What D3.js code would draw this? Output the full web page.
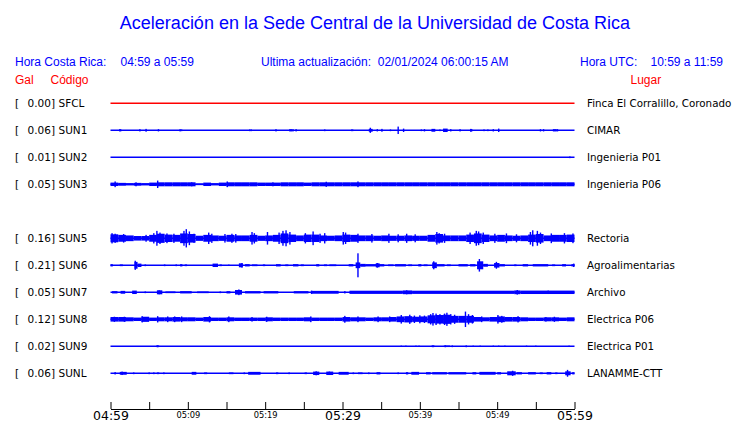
<!DOCTYPE html>
<html><head><meta charset="utf-8">
<script src="https://cdn.jsdelivr.net/npm/d3@7"></script>
<style>body{margin:0;background:#fff}svg{display:block}</style>
</head><body>
<svg id="c" width="740" height="423"></svg>
<script>
// ---------- DATA ----------
const titleText = "Aceleración en la Sede Central de la Universidad de Costa Rica";
const slots  = ["SFCL","SUN1","SUN2","SUN3","SUN4","SUN5","SUN6","SUN7","SUN8","SUN9","SUNL"];
const codes  = ["SFCL","SUN1","SUN2","SUN3","SUN5","SUN6","SUN7","SUN8","SUN9","SUNL"];
const maxGal = [0.00, 0.06, 0.01, 0.05, 0.16, 0.21, 0.05, 0.12, 0.02, 0.06];
const places = ["Finca El Corralillo, Coronado","CIMAR","Ingenieria P01","Ingenieria P06",
                "Rectoria","Agroalimentarias","Archivo","Electrica P06","Electrica P01","LANAMME-CTT"];
const tickLabels = ["04:59","","05:09","","05:19","","05:29","","05:39","","05:49","","05:59"];
const majorLabels = ["04:59","05:29","05:59"];

// per-minute envelope (Gal) for the continuously noisy stations
const envSUN3 = [0.03,0.025,0.02,0.025,0.02,0.03,0.035,0.035,0.035,0.035,
                 0.035,0.015,0.03,0.02,0.03,0.035,0.035,0.035,0.035,0.03,
                 0.03,0.03,0.035,0.035,0.035,0.03,0.035,0.035,0.035,0.035,
                 0.035,0.035,0.035,0.035,0.035,0.035,0.035,0.035,0.035,0.035,
                 0.035,0.035,0.035,0.035,0.035,0.035,0.035,0.035,0.035,0.035,
                 0.035,0.035,0.035,0.035,0.035,0.035,0.035,0.035,0.035,0.035];
const envSUN5 = [0.07,0.06,0.05,0.04,0.04,0.06,0.08,0.065,0.06,0.085,
                 0.075,0.045,0.06,0.05,0.045,0.06,0.05,0.05,0.06,0.045,
                 0.05,0.06,0.085,0.065,0.05,0.065,0.065,0.05,0.045,0.05,
                 0.065,0.06,0.05,0.05,0.045,0.05,0.045,0.045,0.05,0.045,
                 0.045,0.06,0.075,0.05,0.05,0.05,0.065,0.085,0.065,0.05,
                 0.06,0.05,0.045,0.05,0.065,0.075,0.05,0.06,0.06,0.065];
const envSUN8 = [0.04,0.04,0.035,0.03,0.045,0.03,0.035,0.035,0.04,0.035,
                 0.035,0.03,0.04,0.03,0.03,0.035,0.03,0.03,0.03,0.03,
                 0.035,0.03,0.03,0.03,0.03,0.035,0.03,0.03,0.03,0.03,
                 0.04,0.035,0.035,0.03,0.035,0.035,0.04,0.05,0.055,0.045,
                 0.05,0.07,0.075,0.08,0.06,0.06,0.06,0.04,0.035,0.04,
                 0.05,0.04,0.04,0.035,0.03,0.03,0.035,0.035,0.03,0.035];

// bursts [startMin, endMin, Gal]
const burstsSUN1 = [[1.1,1.4,0.02],[23.1,23.5,0.02],[27.6,27.8,0.015],[31.1,31.4,0.015],[33.4,33.9,0.025],
                    [41.5,42.0,0.025],[43.0,43.6,0.03],[46.5,46.8,0.02],[57.2,57.7,0.02]];
const burstsSUN6 = [[0,0.3,0.02],[1.2,1.6,0.015],[3.1,3.5,0.06],[3.5,4.0,0.03],[4.4,4.6,0.015],[6.9,7.1,0.015],
                    [8.4,8.6,0.015],[9.0,9.3,0.02],[9.6,9.9,0.015],[13.2,13.9,0.03],[14.1,14.4,0.015],
                    [15.2,15.4,0.012],[16.6,17.1,0.035],[17.4,18.0,0.02],[18.3,19.0,0.015],[19.7,20.0,0.015],
                    [21.4,22.0,0.02],[22.6,23.0,0.015],[23.6,24.3,0.02],[24.6,25.0,0.015],[26.6,27.0,0.02],
                    [27.6,28.0,0.015],[28.3,29.2,0.015],[30.8,31.4,0.02],[31.7,32.3,0.05],[32.3,33.0,0.025],
                    [33.0,35.4,0.02],[34.3,34.8,0.035],[35.9,36.6,0.015],[36.8,38.2,0.02],[38.5,39.0,0.015],
                    [39.8,40.2,0.02],[40.5,41.0,0.015],[41.6,42.2,0.05],[42.2,43.2,0.02],[43.5,44.0,0.015],
                    [45.0,46.2,0.02],[46.5,47.2,0.02],[47.4,48.2,0.07],[48.2,48.8,0.025],[49.6,50.3,0.04],
                    [50.3,51.0,0.02],[52.2,52.5,0.015],[53.3,54.0,0.02],[54.6,56.6,0.02],[57.1,57.5,0.015],
                    [58.4,58.9,0.02],[59.6,60,0.02]];
const burstsSUN7 = [[0.2,0.9,0.02],[1.3,1.9,0.025],[2.8,3.4,0.03],[4.4,4.6,0.015],[6.0,6.7,0.035],[7.1,8.4,0.015],
                    [9.0,10.5,0.02],[11.2,12.7,0.015],[14.1,14.3,0.015],[15.0,15.5,0.02],[16.1,17.0,0.04],
                    [17.4,19.4,0.02],[19.8,21.7,0.02],[23.7,25.6,0.02],[26.0,29.5,0.025],[30.2,30.4,0.02],
                    [30.9,37.8,0.028],[37.8,39.0,0.033],[39.0,52.2,0.028],[52.2,53.0,0.033],[53.0,60,0.03]];
const burstsSUN9 = [[5.9,6.3,0.014],[41.5,41.9,0.013],[43.1,43.9,0.013]];
const burstsSUNL = [[0.5,0.7,0.02],[1.2,2.1,0.025],[2.9,3.1,0.015],[4.9,5.1,0.015],[5.5,5.7,0.015],[6.0,6.3,0.015],
                    [6.8,7.0,0.015],[10.5,11.1,0.025],[12.1,12.5,0.015],[15.3,15.9,0.015],[17.2,17.4,0.015],
                    [17.8,19.4,0.025],[21.4,21.7,0.015],[23.0,23.2,0.015],[25.1,25.4,0.015],[26.2,27.0,0.03],
                    [27.9,28.8,0.03],[29.5,30.8,0.025],[31.3,31.5,0.015],[32.0,32.6,0.015],[33.3,33.5,0.015],
                    [34.4,34.9,0.02],[37.1,37.3,0.015],[38.2,38.5,0.02],[38.9,39.9,0.025],[40.8,41.4,0.02],
                    [41.6,43.5,0.02],[43.7,46.0,0.02],[46.8,47.3,0.02],[47.7,49.8,0.025],[50.0,50.5,0.02],
                    [51.3,52.4,0.035],[52.5,53.2,0.02],[54.0,55.0,0.02],[55.5,55.9,0.015],[56.4,57.0,0.02],
                    [57.5,57.8,0.015],[58.8,59.5,0.035],[59.7,60,0.02]];

// spikes [minute, Gal]
const spikesSUN1 = [[3.8,0.02],[4.6,0.025],[6.2,0.02],[9.0,0.02],[9.2,0.015],[18.0,0.015],[18.2,0.015],[21.4,0.02],
                    [23.6,0.02],[24.0,0.02],[33.6,0.045],[34.5,0.02],[35.1,0.025],[36.2,0.015],[37.2,0.065],
                    [37.9,0.03],[40.2,0.015],[40.6,0.02],[42.6,0.015],[44.0,0.02],[45.2,0.02],[46.6,0.025],
                    [48.3,0.015],[48.8,0.015],[49.5,0.02],[50.2,0.03],[55.6,0.02],[56.0,0.02],[57.8,0.02]];
const spikesSUN2 = [[59.4,0.015]];
const spikesSUN3 = [[0.6,0.05],[3.3,0.035],[6.1,0.065],[10.5,0.035],[15.1,0.05],[21.0,0.035],[27.9,0.045],[32.0,0.05]];
const spikesSUN5 = [[0.2,0.09],[0.6,0.08],[1.7,0.075],[4.6,0.06],[5.6,0.09],[6.0,0.13],[6.4,0.1],[7.3,0.085],
                    [8.2,0.08],[9.5,0.13],[9.8,0.16],[10.2,0.12],[10.8,0.08],[12.7,0.1],[13.1,0.08],[14.8,0.075],
                    [15.7,0.08],[16.2,0.075],[18.3,0.11],[18.6,0.09],[20.3,0.11],[21.8,0.1],[22.3,0.13],[22.7,0.14],
                    [23.2,0.11],[25.2,0.09],[26.2,0.12],[27.1,0.08],[27.7,0.09],[30.1,0.11],[30.4,0.1],[32.0,0.08],
                    [33.8,0.075],[36.0,0.08],[37.2,0.07],[38.3,0.08],[39.4,0.07],[42.2,0.11],[42.5,0.09],[43.2,0.08],
                    [46.5,0.1],[47.3,0.13],[47.6,0.12],[48.2,0.1],[49.7,0.08],[51.2,0.085],[52.5,0.07],[54.3,0.11],
                    [54.6,0.14],[55.2,0.13],[55.6,0.1],[57.0,0.085],[58.7,0.09],[59.8,0.085]];
const spikesSUN6 = [[3.2,0.08],[17.0,0.04],[32.0,0.21],[34.5,0.04],[41.8,0.07],[47.7,0.11],[49.9,0.06],[59.9,0.03]];
const spikesSUN7 = [[6.3,0.035],[16.6,0.05],[26.0,0.03],[38.3,0.035],[52.6,0.04],[56.6,0.03]];
const spikesSUN8 = [[0.5,0.045],[1.8,0.045],[4.1,0.055],[6.1,0.055],[7.4,0.05],[8.3,0.05],[9.2,0.05],[12.8,0.055],
                    [15.3,0.05],[18.3,0.04],[20.2,0.045],[25.9,0.05],[30.3,0.06],[32.0,0.05],[34.6,0.05],[36.1,0.05],
                    [37.6,0.075],[38.7,0.08],[39.3,0.065],[40.0,0.07],[40.6,0.065],[41.4,0.09],[41.7,0.11],[42.1,0.1],
                    [42.6,0.09],[43.2,0.1],[43.5,0.115],[44.0,0.09],[44.5,0.08],[45.9,0.135],[46.3,0.09],[46.8,0.075],
                    [48.0,0.05],[50.1,0.075],[50.6,0.06],[52.7,0.055],[56.3,0.04],[57.4,0.045]];
const spikesSUN9 = [[6.1,0.016],[37.6,0.012],[38.2,0.012],[39.5,0.012],[39.9,0.012],[41.7,0.016],[43.3,0.016],
                    [44.2,0.015],[46.0,0.016],[46.9,0.012],[47.8,0.012],[49.5,0.012],[50.2,0.012],[51.0,0.012],
                    [53.8,0.012],[55.0,0.012],[59.3,0.012]];
const spikesSUNL = [[1.5,0.03],[26.6,0.035],[28.3,0.03],[52.0,0.045],[59.1,0.06]];

// ---------- BUILD ----------
const envBy = {SUN3: envSUN3, SUN5: envSUN5, SUN8: envSUN8};
const burstsBy = {SUN1: burstsSUN1, SUN6: burstsSUN6, SUN7: burstsSUN7, SUN9: burstsSUN9, SUNL: burstsSUNL};
const spikesBy = {SUN1: spikesSUN1, SUN2: spikesSUN2, SUN3: spikesSUN3, SUN5: spikesSUN5, SUN6: spikesSUN6,
                  SUN7: spikesSUN7, SUN8: spikesSUN8, SUN9: spikesSUN9, SUNL: spikesSUNL};

const svg = d3.select("#c");
const BLUE = "#0000ff", RED = "#ff0000";
const SANS = "'Liberation Sans', Arial, sans-serif";
const DEJA = "'DejaVu Sans', sans-serif";

const t0 = new Date(Date.UTC(2024, 1, 2, 4, 59));
const t1 = new Date(Date.UTC(2024, 1, 2, 5, 59));
const tm = m => new Date(t0.getTime() + m * 60000);
const x = d3.scaleUtc().domain([t0, t1]).range([110.5, 574.5]);
const y = d3.scalePoint().domain(slots).range([103.3, 373.3]);
const amp = d3.scaleLinear().domain([0, 0.21]).range([0, 12]);

// title & headers
svg.append("text").attr("x", 375).attr("y", 29).attr("text-anchor", "middle")
  .attr("font-family", SANS).attr("font-size", 18).attr("fill", BLUE).text(titleText);
const hdr = [
  [15, 65.5, "Hora Costa Rica:", BLUE], [120.5, 65.5, "04:59 a 05:59", BLUE],
  [261, 65.5, "Ultima actualización:\u00a0\u00a002/01/2024 06:00:15 AM", BLUE],
  [580, 65.5, "Hora UTC:", BLUE], [650.5, 65.5, "10:59 a 11:59", BLUE],
  [15, 84.3, "Gal", RED], [50.5, 84.3, "Código", RED], [630.5, 84.3, "Lugar", RED]
];
svg.append("g").selectAll("text").data(hdr).join("text")
  .attr("x", d => d[0]).attr("y", d => d[1]).attr("fill", d => d[3])
  .attr("font-family", SANS).attr("font-size", 12).text(d => d[2]);

// station rows
const rows = svg.append("g").selectAll("g").data(codes).join("g")
  .attr("transform", c => `translate(0,${y(c)})`);

rows.append("text").attr("x", 15).attr("y", 4).attr("font-family", DEJA).attr("font-size", 10.5).text("[");
rows.append("text").attr("x", 55).attr("y", 4).attr("text-anchor", "end").attr("font-family", DEJA)
  .attr("font-size", 10.5).text((c, i) => maxGal[i].toFixed(2) + "]");
rows.append("text").attr("x", 58.5).attr("y", 4).attr("font-family", DEJA).attr("font-size", 10.5).text(c => c);
rows.append("text").attr("x", 587).attr("y", 4).attr("font-family", DEJA).attr("font-size", 10.3)
  .text((c, i) => places[i]);

rows.each(function(c) {
  const g = d3.select(this);
  const col = c === "SFCL" ? RED : BLUE;
  g.append("line").attr("x1", x(t0)).attr("x2", x(t1)).attr("y1", 0).attr("y2", 0)
    .attr("stroke", col).attr("stroke-width", 1.4);
  const env = envBy[c] || [];
  g.append("g").selectAll("rect").data(env).join("rect")
    .attr("x", (v, i) => x(tm(i))).attr("width", (v, i) => x(tm(i + 1)) - x(tm(i)))
    .attr("y", v => -amp(v)).attr("height", v => 2 * amp(v)).attr("fill", col);
  const b = burstsBy[c] || [];
  g.append("g").selectAll("rect").data(b).join("rect")
    .attr("x", d => x(tm(d[0]))).attr("width", d => Math.max(1, x(tm(d[1])) - x(tm(d[0]))))
    .attr("y", d => -amp(d[2])).attr("height", d => 2 * amp(d[2])).attr("fill", col);
  const s = spikesBy[c] || [];
  g.append("g").selectAll("rect").data(s).join("rect")
    .attr("x", d => x(tm(d[0])) - 0.7).attr("width", 1.4)
    .attr("y", d => -amp(d[1])).attr("height", d => 2 * amp(d[1])).attr("fill", col);
});

// time axis
const tickVals = tickLabels.map((l, i) => tm(i * 5));
const axis = d3.axisBottom(x).tickValues(tickVals).tickSizeInner(-7).tickSizeOuter(0)
  .tickFormat((d, i) => tickLabels[i]);
const ag = svg.append("g").attr("transform", "translate(0,409)").call(axis);
ag.select(".domain").attr("stroke", "#000").attr("stroke-width", 1);
ag.selectAll(".tick line").attr("stroke", "#000").attr("stroke-width", 1);
ag.selectAll(".tick text").attr("fill", "#000").attr("font-family", DEJA).attr("dy", 0)
  .attr("font-size", (d, i) => majorLabels.includes(tickLabels[i]) ? 12.5 : 8.3)
  .attr("y", (d, i) => majorLabels.includes(tickLabels[i]) ? 11 : 9);
</script>
</body></html>
